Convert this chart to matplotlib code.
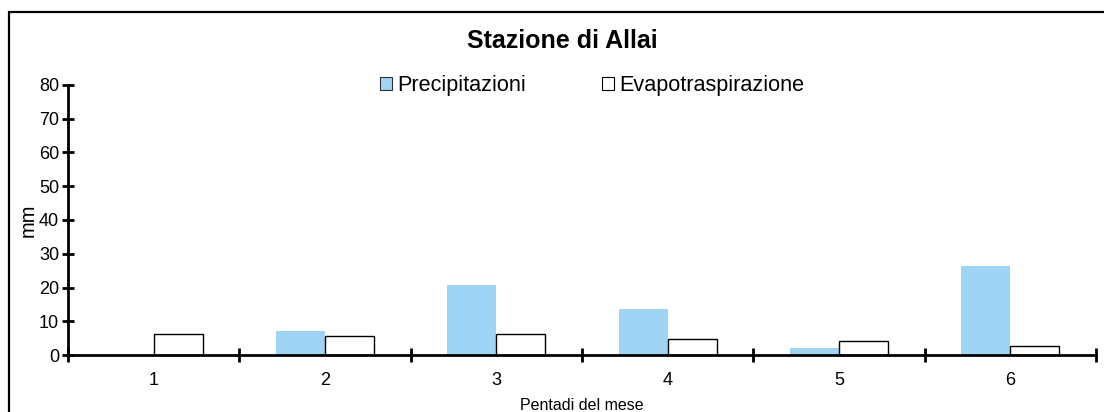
import matplotlib
matplotlib.use("Agg")
import matplotlib.pyplot as plt
import matplotlib.patches as mpatches
import numpy as np

plt.rcParams['font.family'] = ['Liberation Sans', 'DejaVu Sans']

categories = ["1", "2", "3", "4", "5", "6"]
precipitazioni = [0.0, 7.1, 20.7, 13.6, 2.1, 26.4]
evapotraspirazione = [6.1, 5.5, 6.1, 4.7, 4.1, 2.6]
yticks = [0, 10, 20, 30, 40, 50, 60, 70, 80]

W, H = 1104, 412
fig = plt.figure(figsize=(W / 100, H / 100), dpi=100)
ax = fig.add_axes([68 / W, 1 - 355 / H, (1096 - 68) / W, (355 - 85) / H])

x = np.arange(1, len(categories) + 1)
bw = 1 / 3.5
ax.bar(x - bw / 2, precipitazioni, width=bw, color='#9fd4f5', edgecolor='none',
       label='Precipitazioni', zorder=2)
ax.bar(x + bw / 2, evapotraspirazione, width=bw, facecolor='white', edgecolor='black',
       linewidth=1.0, label='Evapotraspirazione', zorder=2)

ax.set_xlim(0.5, len(categories) + 0.5)
ax.set_ylim(0, 80)
ax.set_yticks(yticks)
ax.set_yticklabels([str(v) for v in yticks], fontsize=13)

ax.set_xticks(np.arange(0.5, len(categories) + 1, 1.0))
ax.set_xticklabels([])
ax.set_xticks(x, minor=True)
ax.set_xticklabels(categories, minor=True, fontsize=13)
ax.tick_params(axis='x', which='minor', length=0, pad=12)
ax.tick_params(axis='x', which='major', direction='inout', length=10, width=2)
ax.tick_params(axis='y', which='major', direction='inout', length=9, width=2, pad=2)

for s in ['top', 'right']:
    ax.spines[s].set_visible(False)
for s in ['left', 'bottom']:
    ax.spines[s].set_linewidth(2)
    ax.spines[s].set_zorder(3)

fig.text(28 / W, 1 - 220 / H, 'mm', rotation=90, ha='center', va='center', fontsize=14.5)
fig.text(582 / W, 1 - 410 / H, 'Pentadi del mese', ha='center', va='baseline', fontsize=11.5)

fig.text(562 / W, 1 - 48 / H, 'Stazione di Allai', ha='center', va='baseline',
         fontsize=18, fontweight='bold')

handles = [mpatches.Patch(facecolor='#9fd4f5', edgecolor='#333333', linewidth=0.8),
           mpatches.Patch(facecolor='white', edgecolor='black', linewidth=0.8)]
fig.legend(handles, ['Precipitazioni', 'Evapotraspirazione'], ncol=2,
           loc='center left', bbox_to_anchor=(380 / W, 1 - 86 / H),
           frameon=False, fontsize=15.6, handlelength=0.55, handleheight=0.55,
           handletextpad=0.25, columnspacing=3.5, borderpad=0, borderaxespad=0)

border = mpatches.Rectangle((9 / W, -0.2), 1.2, (1 - 12 / H) + 0.2,
                            transform=fig.transFigure, fill=False,
                            edgecolor='black', linewidth=1.6, clip_on=False)
fig.patches.append(border)

fig.savefig('out.png', dpi=100)
